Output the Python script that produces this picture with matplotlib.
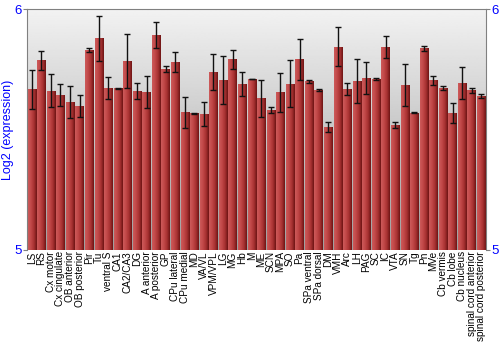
import numpy as np
import matplotlib
matplotlib.use('Agg')
import matplotlib.pyplot as plt
from matplotlib.colors import LinearSegmentedColormap

plt.rcParams['font.family'] = ['Liberation Sans', 'DejaVu Sans']

regions = ['LS', 'RS', 'Cx motor', 'Cx cingulate', 'OB anterior', 'OB posterior',
           'Pir', 'Tu', 'ventral S', 'CA1', 'CA2/CA3', 'DG', 'A anterior',
           'A posterior', 'GP', 'CPu lateral', 'CPu medial', 'MD', 'VA/VL',
           'VPM/VPL', 'LG', 'MG', 'Hb', 'M', 'ME', 'SCN', 'MPA', 'SO', 'Pa',
           'SPa ventral', 'SPa dorsal', 'DM', 'VMH', 'Arc', 'LH', 'PAG', 'SC',
           'IC', 'VTA', 'SN', 'Tg', 'Pn', 'MVe', 'Cb vermis', 'Cb lobe',
           'Cb nucleus', 'spinal cord anterior', 'spinal cord posterior']

expr = [5.667, 5.787, 5.661, 5.644, 5.614, 5.598, 5.830, 5.878, 5.672, 5.671,
        5.784, 5.661, 5.656, 5.892, 5.751, 5.780, 5.571, 5.567, 5.564, 5.739,
        5.707, 5.791, 5.689, 5.708, 5.629, 5.581, 5.654, 5.690, 5.791, 5.701,
        5.664, 5.510, 5.844, 5.668, 5.701, 5.715, 5.711, 5.841, 5.519, 5.685,
        5.570, 5.838, 5.705, 5.672, 5.568, 5.693, 5.663, 5.639]

err = [0.080, 0.038, 0.068, 0.045, 0.066, 0.046, 0.010, 0.092, 0.046, 0.002,
       0.113, 0.034, 0.068, 0.053, 0.012, 0.040, 0.065, 0.002, 0.051, 0.073,
       0.100, 0.040, 0.050, 0.000, 0.077, 0.014, 0.081, 0.097, 0.084, 0.006,
       0.003, 0.020, 0.082, 0.026, 0.091, 0.067, 0.004, 0.046, 0.014, 0.088,
       0.003, 0.010, 0.019, 0.010, 0.042, 0.065, 0.010, 0.008]

fig = plt.figure(figsize=(5, 3.5), dpi=100)
ax = fig.add_axes([0.054, 0.286, 0.918, 0.688])

x = np.arange(len(regions))
w = 0.88
ymin, ymax = 5, 6

# grey background gradient
bg = np.linspace(0.95, 0.62, 256).reshape(-1, 1)
ax.imshow(bg, cmap='gray', vmin=0, vmax=1, extent=[0, 1, 0, 1],
          transform=ax.transAxes, aspect='auto', zorder=0)

# bars with a horizontal shading
bar_cmap = LinearSegmentedColormap.from_list(
    'barshade', ['#cc5a5a', '#c24848', '#a83232', '#6e1414'])
shade = np.linspace(0, 1, 64).reshape(1, -1)
bars = ax.bar(x, np.array(expr) - ymin, bottom=ymin, width=w,
              color='none', edgecolor='none', zorder=2)
for b in bars:
    im = ax.imshow(shade, cmap=bar_cmap, aspect='auto', zorder=2,
                   extent=[b.get_x(), b.get_x() + b.get_width(),
                           ymin, ymin + b.get_height()])
    im.set_clip_path(b)

ax.errorbar(x, expr, yerr=err, fmt='none', ecolor='#111111',
            elinewidth=1, capsize=2, capthick=1, zorder=3)

ax.set_xlim(-0.5, len(regions) - 0.5)
ax.set_ylim(ymin, ymax)

ax.set_xticks(x)
ax.set_xticklabels(regions, rotation=90, fontsize=7.2)
ax.tick_params(axis='x', length=0, pad=1)

ax.set_yticks([5, 6])
ax.set_yticklabels(['5', '6'])
ax.tick_params(axis='y', colors='#808080', labelcolor='blue', labelsize=9.5,
               length=3, pad=1, right=True, labelright=True)
ax.set_ylabel('Log2 (expression)', color='blue', fontsize=9)
ax.yaxis.set_label_coords(-0.028, 0.5)

for s in ax.spines.values():
    s.set_color('#808080')
ax.spines['bottom'].set_visible(False)

fig.savefig('out.png', dpi=100)
